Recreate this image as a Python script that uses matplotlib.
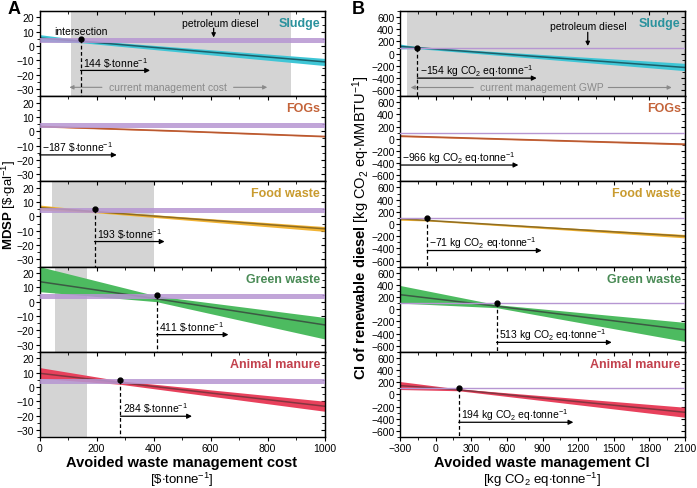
import numpy as np
import matplotlib.pyplot as plt
from matplotlib.ticker import MultipleLocator

plt.rcParams['font.family'] = ['Liberation Sans', 'DejaVu Sans']
plt.rcParams['mathtext.fontset'] = 'custom'
plt.rcParams['mathtext.rm'] = 'Liberation Sans'
plt.rcParams['mathtext.it'] = 'Liberation Sans:italic'
plt.rcParams['mathtext.bf'] = 'Liberation Sans:bold'

feedstocks = ['Sludge', 'FOGs', 'Food waste', 'Green waste', 'Animal manure']
band_colors = ['#3fc6d6', '#d8794c', '#f2b434', '#4dbb60', '#e8415c']
line_colors = ['#1d5f6a', '#b9582f', '#8f6d22', '#3b5a43', '#853540']
label_colors = ['#2a929d', '#c4643a', '#c99b2f', '#4a8b56', '#c2414d']
diesel_color = '#b696d2'
span_color = '#d4d4d4'

# Panel A: minimum diesel selling price vs avoided waste management cost
cost_x = [[0, 144, 1000], [0, 500, 1000], [0, 193, 1000], [0, 411, 1000], [0, 284, 1000]]
mdsp_mid = [[5.6, 3.4, -11.0], [3.4, 0.1, -3.6], [6.2, 3.4, -8.6], [14.0, 2.0, -16.2], [9.5, 3.0, -13.5]]
mdsp_lo = [[3.2, 2.4, -13.6], [3.0, -0.3, -4.0], [4.5, 2.7, -10.4], [7.0, 0.0, -26.0], [6.0, 1.8, -17.0]]
mdsp_hi = [[8.0, 4.4, -8.6], [3.8, 0.5, -3.2], [8.0, 4.1, -7.0], [24.5, 4.0, -11.0], [13.5, 4.2, -10.0]]
cost_breakeven = [144, -187, 193, 411, 284]
cost_arrow_y = [-17, -16.5, -17.5, -23, -20.5]
cost_arrow_end = [388, 271, 439, 663, 535]
cost_spans = [(111, 884), None, (43, 400), (54, 166), (0, 166)]
diesel_price = (2.2, 5.6)

# Panel B: carbon intensity vs avoided waste management CI
ci_x = [[-300, -154, 2100], [-300, 900, 2100], [-300, -71, 2100], [-300, 513, 2100], [-300, 194, 2100]]
ci_mid = [[118, 97, -228], [46, -22, -88], [86, 59, -200], [239, 50, -338], [145, 75, -294]]
ci_lo = [[78, 82, -281], [34, -32, -100], [62, 50, -228], [100, 25, -530], [80, 60, -376]]
ci_hi = [[157, 112, -160], [58, -12, -76], [110, 68, -172], [390, 75, -217], [211, 90, -211]]
ci_breakeven = [-154, -966, -71, 513, 194]
ci_arrow_y = [-403, -431, -436, -545, -458]
ci_arrow_end = [851, 697, 893, 1483, 1160]
ci_spans = [(-244, 2100), None, None, None, None]
diesel_ci = 100

fig = plt.figure(figsize=(6.97, 4.89), dpi=100)

left_x0, right_x0 = 39.5 / 697, 400 / 697
ax_w = 285 / 697
top, bottom = 1 - 12 / 489, 1 - 438 / 489
ax_h = (top - bottom) / 5


def style_axis(ax, xmaj, xmin, ymaj, ymin, show_x):
    ax.xaxis.set_major_locator(MultipleLocator(xmaj))
    ax.xaxis.set_minor_locator(MultipleLocator(xmin))
    ax.yaxis.set_major_locator(MultipleLocator(ymaj))
    ax.yaxis.set_minor_locator(MultipleLocator(ymin))
    ax.tick_params(axis='both', which='both', direction='out', labelsize=7.5, pad=1.0,
                   top=False, right=False, bottom=show_x, labelbottom=show_x)
    ax.tick_params(which='major', length=3, width=0.8)
    ax.tick_params(which='minor', length=2, width=0.6)
    for s in ax.spines.values():
        s.set_linewidth(1.0)
    # inward ticks on top and right edges
    sec_x = ax.secondary_xaxis('top')
    sec_x.xaxis.set_major_locator(MultipleLocator(xmaj))
    sec_x.xaxis.set_minor_locator(MultipleLocator(xmin))
    sec_x.tick_params(which='both', direction='in', labeltop=False)
    sec_x.tick_params(which='major', length=3, width=0.8)
    sec_x.tick_params(which='minor', length=2, width=0.6)
    sec_y = ax.secondary_yaxis('right')
    sec_y.yaxis.set_major_locator(MultipleLocator(ymaj))
    sec_y.yaxis.set_minor_locator(MultipleLocator(ymin))
    sec_y.tick_params(which='both', direction='in', labelright=False)
    sec_y.tick_params(which='major', length=3, width=0.8)
    sec_y.tick_params(which='minor', length=2, width=0.6)


def draw_panel(ax, i, xs, mid, lo, hi, breakeven, arrow_y, arrow_end, span, xlim, ylim,
               unit_text, text_dy, is_cost):
    ax.set_xlim(*xlim)
    ax.set_ylim(*ylim)
    if span is not None:
        ax.axvspan(span[0], span[1], color=span_color, lw=0, zorder=0)
    if is_cost:
        ax.axhspan(diesel_price[0], diesel_price[1], color=diesel_color, alpha=0.85, lw=0, zorder=3)
        dot_y = 5
    else:
        ax.axhline(diesel_ci, color=diesel_color, lw=1.0, zorder=3)
        dot_y = diesel_ci
    ax.fill_between(xs[i], lo[i], hi[i], color=band_colors[i], lw=0, zorder=1)
    ax.plot(xs[i], mid[i], color=line_colors[i], lw=1.1, zorder=2)

    start = breakeven[i]
    if start > xlim[0]:
        ax.plot([start], [dot_y], 'o', color='k', ms=3.5, zorder=5)
        ax.plot([start, start], [dot_y, ylim[0]], color='k', lw=0.9, ls=(0, (3, 2)), zorder=5)
    else:
        start = xlim[0]
    ax.annotate('', xy=(arrow_end[i], arrow_y[i]), xytext=(start, arrow_y[i]),
                arrowprops=dict(arrowstyle='-|>', color='k', lw=0.9, mutation_scale=7,
                                shrinkA=0, shrinkB=0), zorder=5)
    value = str(breakeven[i]).replace('-', '\u2212')
    ax.text(start + (xlim[1] - xlim[0]) * 0.008, arrow_y[i] + text_dy, value + ' ' + unit_text,
            fontsize=7.5, ha='left', va='center', zorder=5)
    ax.text(0.985, 0.86, feedstocks[i], transform=ax.transAxes, ha='right', va='center',
            fontsize=9, fontweight='bold', color=label_colors[i], zorder=6)


cost_axes, ci_axes = [], []
for i in range(5):
    y0 = top - (i + 1) * ax_h
    axa = fig.add_axes([left_x0, y0, ax_w, ax_h])
    draw_panel(axa, i, cost_x, mdsp_mid, mdsp_lo, mdsp_hi, cost_breakeven, cost_arrow_y,
               cost_arrow_end, cost_spans[i], (0, 1000), (-35, 24.5),
               r'\$$\cdot$tonne$^{\mathregular{-1}}$', 5.8, True)
    style_axis(axa, 200, 100, 10, 5, i == 4)
    cost_axes.append(axa)

    axb = fig.add_axes([right_x0, y0, ax_w, ax_h])
    draw_panel(axb, i, ci_x, ci_mid, ci_lo, ci_hi, ci_breakeven, ci_arrow_y,
               ci_arrow_end, ci_spans[i], (-300, 2100), (-700, 700),
               r'kg CO$_{\mathregular{2}}$ eq$\cdot$tonne$^{\mathregular{-1}}$', 135, False)
    style_axis(axb, 300, 150, 200, 100, i == 4)
    ci_axes.append(axb)

for ax in cost_axes[4:] + ci_axes[4:]:
    ax.set_xticklabels([str(int(t)).replace('-', '\u2212') for t in ax.get_xticks()])

# extra notes on the Sludge panels
gray_txt = '#8a8a8a'
ax = cost_axes[0]
ax.text(144, 10.3, 'intersection', fontsize=7.5, ha='center', va='center')
ax.text(635, 16.2, 'petroleum diesel', fontsize=7.5, ha='center', va='center')
ax.annotate('', xy=(611, 6), xytext=(611, 12.5),
            arrowprops=dict(arrowstyle='-|>', color='k', lw=0.9, mutation_scale=6, shrinkA=0, shrinkB=0))
ax.text(452, -28.8, 'current management cost', fontsize=7.5, ha='center', va='center', color=gray_txt)
ax.annotate('', xy=(105, -28.8), xytext=(219, -28.8),
            arrowprops=dict(arrowstyle='-|>', color=gray_txt, lw=0.8, mutation_scale=6, shrinkA=0, shrinkB=0))
ax.annotate('', xy=(799, -28.8), xytext=(681, -28.8),
            arrowprops=dict(arrowstyle='-|>', color=gray_txt, lw=0.8, mutation_scale=6, shrinkA=0, shrinkB=0))

ax = ci_axes[0]
ax.text(1282, 458, 'petroleum diesel', fontsize=7.5, ha='center', va='center')
ax.annotate('', xy=(1281, 125), xytext=(1281, 350),
            arrowprops=dict(arrowstyle='-|>', color='k', lw=0.9, mutation_scale=6, shrinkA=0, shrinkB=0))
ax.text(893, -557, 'current management GWP', fontsize=7.5, ha='center', va='center', color=gray_txt)
ax.annotate('', xy=(-210, -557), xytext=(317, -557),
            arrowprops=dict(arrowstyle='-|>', color=gray_txt, lw=0.8, mutation_scale=6, shrinkA=0, shrinkB=0))
ax.annotate('', xy=(1988, -557), xytext=(1454, -557),
            arrowprops=dict(arrowstyle='-|>', color=gray_txt, lw=0.8, mutation_scale=6, shrinkA=0, shrinkB=0))

# axis titles and panel letters
fig.text(8 / 697, 1 - 9 / 489, 'A', fontsize=13, fontweight='bold', ha='left', va='center')
fig.text(352 / 697, 1 - 9 / 489, 'B', fontsize=13, fontweight='bold', ha='left', va='center')

fig.text(8.5 / 697, 1 - 205 / 489, r'$\mathbf{MDSP}$ [\$$\cdot$gal$^{\mathregular{-1}}$]',
         rotation=90, fontsize=9.5, ha='center', va='center')
fig.text(361 / 697, 1 - 228 / 489,
         r'$\mathbf{CI\ of\ renewable\ diesel}$ [kg CO$_{\mathregular{2}}$ eq$\cdot$MMBTU$^{\mathregular{-1}}$]',
         rotation=90, fontsize=10.5, ha='center', va='center')

fig.text((39.5 + 142) / 697, 1 - 463 / 489, 'Avoided waste management cost', fontsize=10.5,
         fontweight='bold', ha='center', va='center')
fig.text((39.5 + 142) / 697, 1 - 480 / 489, r'[\$$\cdot$tonne$^{\mathregular{-1}}$]', fontsize=9.5,
         ha='center', va='center')
fig.text((400 + 142) / 697, 1 - 463 / 489, 'Avoided waste management CI', fontsize=10.5,
         fontweight='bold', ha='center', va='center')
fig.text((400 + 142) / 697, 1 - 480 / 489, r'[kg CO$_{\mathregular{2}}$ eq$\cdot$tonne$^{\mathregular{-1}}$]',
         fontsize=9.5, ha='center', va='center')

fig.savefig('out.png', dpi=100)
